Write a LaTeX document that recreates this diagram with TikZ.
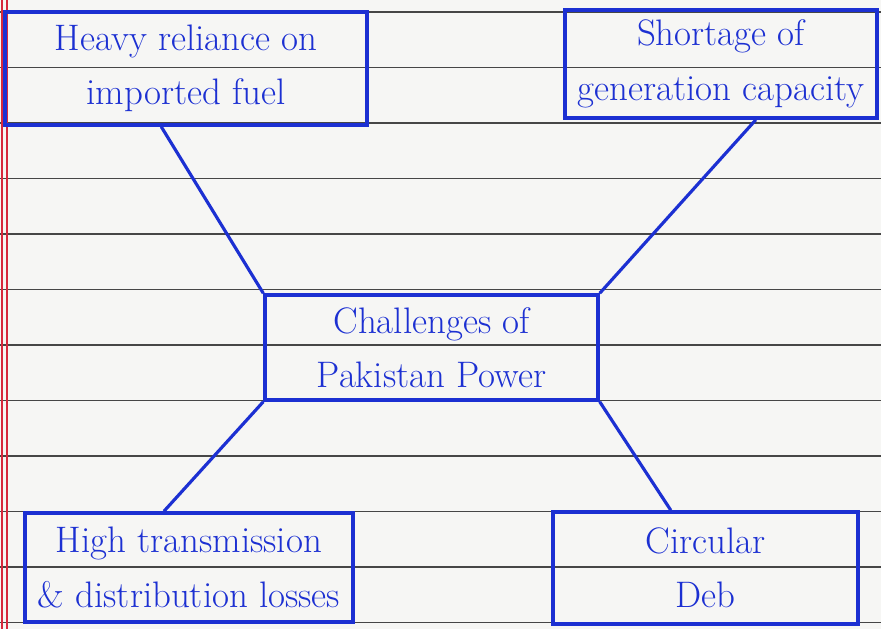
\documentclass[tikz,border=0pt]{standalone}
\usepackage{tikz}
\usetikzlibrary{shapes,positioning}
\definecolor{penblue}{RGB}{28,48,210}
\definecolor{paper}{RGB}{246,246,244}
\definecolor{ruling}{RGB}{70,70,70}
\definecolor{margin}{RGB}{215,40,60}
\tikzset{
  topic/.style = {
    rectangle,
    draw=penblue,
    line width=2pt,
    text=penblue,
    align=center,
    font=\fontsize{21}{31}\selectfont
  },
  core/.style = {
    topic,
    minimum width=6.66cm,
    minimum height=2.1cm
  },
  link/.style = {
    draw=penblue,
    line width=1.8pt
  }
}
\begin{document}
\begin{tikzpicture}[x=0.02cm, y=-0.02cm]

% Blatt
\useasboundingbox (0,0) rectangle (881,629);
\fill[paper] (0,0) rectangle (881,629);
\foreach \k in {0,...,11}
  \draw[ruling, line width=0.6pt] (0,12+55.5*\k) -- (881,12+55.5*\k);
\draw[margin, line width=0.6pt] (2,0) -- (2,629);
\draw[margin, line width=0.6pt] (7,0) -- (7,629);

% Mitte
\node[core] (challenges) at (431.5,347.5) {Challenges of\\Pakistan Power};

% Ecken
\node[topic, minimum width=7.24cm, minimum height=2.26cm] (fuel) at (186,68.5) {Heavy reliance on\\imported fuel};
\node[topic, minimum width=6.24cm, minimum height=2.16cm] (capacity) at (721,64) {Shortage of\\generation capacity};
\node[topic, minimum width=6.56cm, minimum height=2.18cm] (losses) at (189,567.5) {High transmission\\\& distribution losses};
\node[topic, minimum width=6.1cm, minimum height=2.24cm] (debt) at (705.5,568) {Circular\\Deb};

% Verbindungen
\draw[link] (fuel.247) -- (challenges.north west);
\draw[link] (capacity.302) -- (challenges.north east);
\draw[link] (challenges.south west) -- (losses.114);
\draw[link] (challenges.south east) -- (debt.121);

\end{tikzpicture}
\end{document}
